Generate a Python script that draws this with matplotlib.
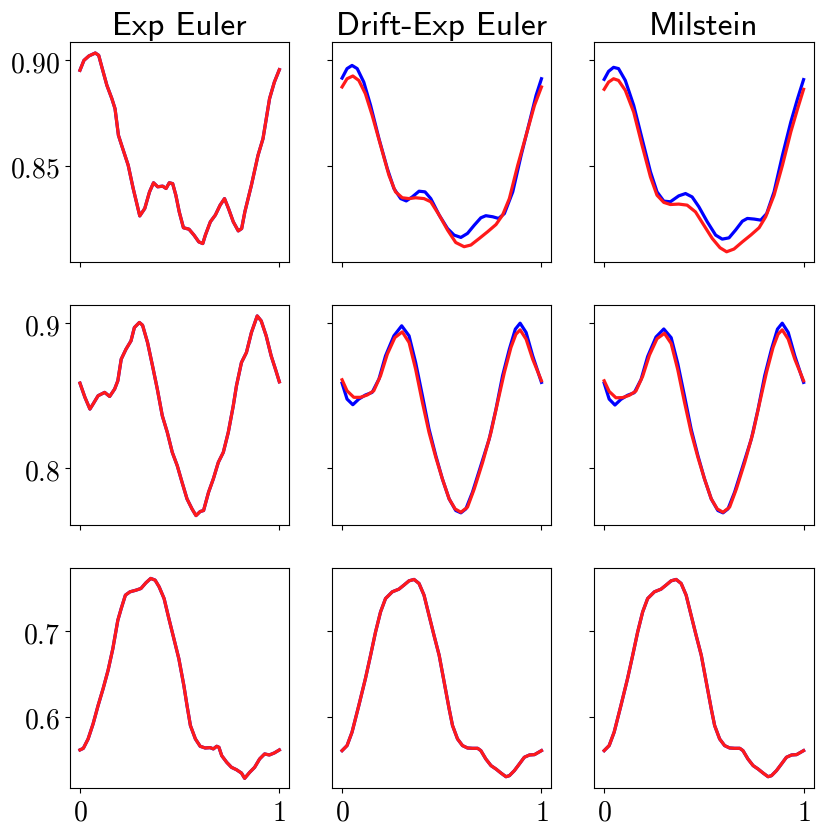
import matplotlib
matplotlib.use("Agg")
import matplotlib.pyplot as plt

plt.rcParams["mathtext.fontset"] = "cm"

methods = ["Exp Euler", "Drift-Exp Euler", "Milstein"]

# ---- row 1 ----
r1_exp_x = [0.0, 0.020, 0.045, 0.077, 0.094, 0.110, 0.135, 0.160, 0.176, 0.193, 0.209,
            0.242, 0.267, 0.300, 0.325, 0.349, 0.369, 0.390, 0.415, 0.432, 0.448, 0.465,
            0.481, 0.498, 0.519, 0.547, 0.572, 0.596, 0.616, 0.629, 0.654, 0.679, 0.703,
            0.725, 0.745, 0.769, 0.794, 0.811, 0.827, 0.860, 0.893, 0.918, 0.951, 0.975, 1.0]
r1_exp_y = [0.8953, 0.9000, 0.9021, 0.9035, 0.9024, 0.8968, 0.8882, 0.8819, 0.8771, 0.8645,
            0.8598, 0.8503, 0.8393, 0.8263, 0.8298, 0.8377, 0.8420, 0.8401, 0.8404, 0.8393,
            0.8420, 0.8416, 0.8361, 0.8282, 0.8207, 0.8200, 0.8172, 0.8140, 0.8132, 0.8172,
            0.8235, 0.8267, 0.8314, 0.8345, 0.8298, 0.8235, 0.8192, 0.8203, 0.8282, 0.8409,
            0.8550, 0.8629, 0.8819, 0.8897, 0.8956]

r1_drift_blue_x = [0.0, 0.025, 0.050, 0.076, 0.109, 0.143, 0.185, 0.227, 0.260, 0.294, 0.322,
                   0.352, 0.386, 0.416, 0.445, 0.487, 0.529, 0.562, 0.596, 0.629, 0.663, 0.696,
                   0.721, 0.755, 0.785, 0.814, 0.856, 0.898, 0.940, 0.973, 1.0]
r1_drift_blue_y = [0.8916, 0.8961, 0.8976, 0.8961, 0.8897, 0.8787, 0.8629, 0.8487, 0.8393,
                   0.8345, 0.8334, 0.8353, 0.8380, 0.8377, 0.8345, 0.8267, 0.8203, 0.8172,
                   0.8161, 0.8180, 0.8219, 0.8254, 0.8264, 0.8259, 0.8251, 0.8274, 0.8377,
                   0.8550, 0.8708, 0.8834, 0.8913]
r1_drift_red_x = [0.0, 0.025, 0.054, 0.084, 0.117, 0.151, 0.193, 0.235, 0.268, 0.302, 0.336,
                  0.369, 0.411, 0.445, 0.487, 0.529, 0.570, 0.612, 0.646, 0.688, 0.730, 0.772,
                  0.805, 0.839, 0.881, 0.923, 0.965, 1.0]
r1_drift_red_y = [0.8874, 0.8913, 0.8926, 0.8905, 0.8842, 0.8740, 0.8598, 0.8456, 0.8377,
                  0.8349, 0.8345, 0.8349, 0.8345, 0.8330, 0.8267, 0.8196, 0.8137, 0.8117,
                  0.8125, 0.8156, 0.8188, 0.8222, 0.8267, 0.8345, 0.8503, 0.8645, 0.8787, 0.8874]

r1_mil_blue_x = [0.0, 0.022, 0.047, 0.072, 0.106, 0.148, 0.190, 0.232, 0.265, 0.299, 0.332,
                 0.374, 0.408, 0.441, 0.475, 0.517, 0.559, 0.592, 0.626, 0.659, 0.693, 0.718,
                 0.752, 0.785, 0.815, 0.852, 0.894, 0.936, 0.970, 1.0]
r1_mil_blue_y = [0.8910, 0.8948, 0.8967, 0.8961, 0.8905, 0.8787, 0.8629, 0.8472, 0.8377,
                 0.8333, 0.8330, 0.8358, 0.8369, 0.8353, 0.8306, 0.8235, 0.8172, 0.8153,
                 0.8159, 0.8196, 0.8238, 0.8251, 0.8248, 0.8243, 0.8274, 0.8377, 0.8550,
                 0.8708, 0.8819, 0.8909]
r1_mil_red_x = [0.0, 0.022, 0.047, 0.072, 0.106, 0.148, 0.190, 0.232, 0.265, 0.299, 0.332,
                0.374, 0.416, 0.458, 0.500, 0.542, 0.581, 0.614, 0.651, 0.693, 0.735, 0.777,
                0.810, 0.852, 0.894, 0.936, 0.970, 1.0]
r1_mil_red_y = [0.8863, 0.8897, 0.8913, 0.8905, 0.8858, 0.8755, 0.8598, 0.8448, 0.8361,
                0.8327, 0.8317, 0.8319, 0.8314, 0.8282, 0.8219, 0.8156, 0.8112, 0.8093,
                0.8106, 0.8140, 0.8172, 0.8207, 0.8259, 0.8361, 0.8503, 0.8661, 0.8771, 0.8863]

# ---- row 2 ----
r2_exp_x = [0.0, 0.025, 0.050, 0.066, 0.091, 0.124, 0.149, 0.174, 0.190, 0.207, 0.231,
            0.256, 0.273, 0.298, 0.314, 0.339, 0.364, 0.388, 0.413, 0.438, 0.463, 0.488,
            0.512, 0.537, 0.562, 0.582, 0.603, 0.620, 0.645, 0.669, 0.694, 0.719, 0.744,
            0.769, 0.785, 0.810, 0.835, 0.860, 0.889, 0.909, 0.934, 0.959, 0.983, 1.0]
r2_exp_y = [0.8587, 0.8489, 0.8408, 0.8443, 0.8500, 0.8523, 0.8495, 0.8546, 0.8603, 0.8752,
            0.8821, 0.8878, 0.8970, 0.9005, 0.8986, 0.8867, 0.8706, 0.8546, 0.8362, 0.8248,
            0.8110, 0.8018, 0.7904, 0.7789, 0.7720, 0.7674, 0.7702, 0.7709, 0.7835, 0.7927,
            0.8041, 0.8110, 0.8248, 0.8431, 0.8569, 0.8729, 0.8798, 0.8936, 0.9050, 0.9016,
            0.8913, 0.8775, 0.8672, 0.8596]

r2_drift_blue_x = [0.0, 0.025, 0.054, 0.084, 0.117, 0.151, 0.185, 0.218, 0.260, 0.299, 0.336,
                   0.369, 0.403, 0.436, 0.470, 0.503, 0.537, 0.570, 0.596, 0.621, 0.654, 0.696,
                   0.738, 0.772, 0.805, 0.839, 0.869, 0.893, 0.923, 0.956, 1.0]
r2_drift_blue_y = [0.8587, 0.8477, 0.8438, 0.8477, 0.8505, 0.8523, 0.8615, 0.8775, 0.8913,
                   0.8982, 0.8913, 0.8729, 0.8500, 0.8271, 0.8087, 0.7927, 0.7789, 0.7709,
                   0.7693, 0.7720, 0.7835, 0.8018, 0.8202, 0.8408, 0.8638, 0.8821, 0.8959,
                   0.9000, 0.8936, 0.8775, 0.8592]
r2_drift_red_x = [0.0, 0.025, 0.059, 0.092, 0.126, 0.159, 0.193, 0.227, 0.265, 0.302, 0.336,
                  0.369, 0.403, 0.436, 0.470, 0.503, 0.537, 0.567, 0.596, 0.629, 0.663, 0.705,
                  0.747, 0.780, 0.814, 0.847, 0.872, 0.893, 0.923, 0.956, 1.0]
r2_drift_red_y = [0.8610, 0.8534, 0.8489, 0.8489, 0.8505, 0.8534, 0.8638, 0.8787, 0.8901,
                  0.8940, 0.8867, 0.8683, 0.8454, 0.8248, 0.8076, 0.7927, 0.7789, 0.7720,
                  0.7697, 0.7732, 0.7858, 0.8041, 0.8248, 0.8454, 0.8661, 0.8833, 0.8924,
                  0.8954, 0.8890, 0.8752, 0.8603]

r2_mil_blue_y = [0.8587, 0.8477, 0.8436, 0.8475, 0.8503, 0.8521, 0.8612, 0.8770, 0.8905,
                 0.8960, 0.8900, 0.8722, 0.8497, 0.8271, 0.8087, 0.7927, 0.7789, 0.7709,
                 0.7693, 0.7720, 0.7835, 0.8018, 0.8202, 0.8408, 0.8638, 0.8821, 0.8959,
                 0.9000, 0.8936, 0.8775, 0.8592]
r2_mil_red_y = [0.8603, 0.8530, 0.8486, 0.8487, 0.8503, 0.8532, 0.8634, 0.8780, 0.8893,
                0.8930, 0.8860, 0.8680, 0.8454, 0.8248, 0.8076, 0.7927, 0.7789, 0.7720,
                0.7697, 0.7732, 0.7858, 0.8041, 0.8248, 0.8454, 0.8661, 0.8833, 0.8924,
                0.8954, 0.8890, 0.8752, 0.8603]

# ---- row 3 ----
r3_exp_x = [0.0, 0.017, 0.041, 0.066, 0.091, 0.116, 0.141, 0.165, 0.190, 0.207, 0.228,
            0.251, 0.281, 0.306, 0.331, 0.355, 0.377, 0.397, 0.422, 0.446, 0.471, 0.496,
            0.521, 0.537, 0.554, 0.579, 0.603, 0.628, 0.653, 0.669, 0.686, 0.697, 0.711,
            0.736, 0.760, 0.785, 0.810, 0.826, 0.851, 0.876, 0.901, 0.926, 0.950, 0.975, 1.0]
r3_exp_y = [0.5608, 0.5627, 0.5737, 0.5914, 0.6129, 0.6325, 0.6541, 0.6796, 0.7129, 0.7267,
            0.7424, 0.7463, 0.7482, 0.7502, 0.7569, 0.7620, 0.7600, 0.7522, 0.7384, 0.7149,
            0.6914, 0.6678, 0.6365, 0.6129, 0.5894, 0.5737, 0.5651, 0.5631, 0.5635, 0.5620,
            0.5651, 0.5639, 0.5541, 0.5463, 0.5404, 0.5376, 0.5337, 0.5275, 0.5345, 0.5404,
            0.5502, 0.5561, 0.5549, 0.5573, 0.5608]

r3_smooth_x = [0.0, 0.025, 0.050, 0.084, 0.117, 0.143, 0.168, 0.193, 0.218, 0.252, 0.285,
               0.310, 0.336, 0.361, 0.386, 0.411, 0.436, 0.461, 0.487, 0.512, 0.537, 0.554,
               0.579, 0.604, 0.629, 0.654, 0.680, 0.696, 0.721, 0.747, 0.772, 0.797, 0.822,
               0.839, 0.864, 0.889, 0.914, 0.940, 0.965, 1.0]
r3_smooth_y = [0.5600, 0.5659, 0.5816, 0.6129, 0.6443, 0.6718, 0.6992, 0.7227, 0.7384,
               0.7463, 0.7494, 0.7541, 0.7592, 0.7608, 0.7561, 0.7424, 0.7188, 0.6953,
               0.6718, 0.6404, 0.6090, 0.5894, 0.5737, 0.5659, 0.5631, 0.5627, 0.5627,
               0.5600, 0.5502, 0.5424, 0.5384, 0.5337, 0.5294, 0.5306, 0.5365, 0.5443,
               0.5522, 0.5549, 0.5553, 0.5600]

row_ylims = [(0.8046, 0.9087), (0.761, 0.9124), (0.5161, 0.7738)]
row_yticks = [[0.85, 0.90], [0.8, 0.9], [0.6, 0.7]]
row_yticklabels = [["0.85", "0.90"], ["0.8", "0.9"], ["0.6", "0.7"]]

# (blue x, blue y, red x, red y) for each panel
panels = [
    [(r1_exp_x, r1_exp_y, r1_exp_x, r1_exp_y),
     (r1_drift_blue_x, r1_drift_blue_y, r1_drift_red_x, r1_drift_red_y),
     (r1_mil_blue_x, r1_mil_blue_y, r1_mil_red_x, r1_mil_red_y)],
    [(r2_exp_x, r2_exp_y, r2_exp_x, r2_exp_y),
     (r2_drift_blue_x, r2_drift_blue_y, r2_drift_red_x, r2_drift_red_y),
     (r2_drift_blue_x, r2_mil_blue_y, r2_drift_red_x, r2_mil_red_y)],
    [(r3_exp_x, r3_exp_y, r3_exp_x, r3_exp_y),
     (r3_smooth_x, r3_smooth_y, r3_smooth_x, r3_smooth_y),
     (r3_smooth_x, r3_smooth_y, r3_smooth_x, r3_smooth_y)],
]

fig, axes = plt.subplots(3, 3, figsize=(8.31, 8.37), dpi=100, sharex=True, sharey="row")
fig.subplots_adjust(left=0.0842, right=0.979, bottom=0.0573, top=0.9486,
                    wspace=0.195, hspace=0.198)

for i in range(3):
    for j in range(3):
        ax = axes[i, j]
        bx, by, rx, ry = panels[i][j]
        ax.plot(bx, by, color="blue", lw=2.3, solid_joinstyle="round")
        ax.plot(rx, ry, color="#ff1a1a", lw=2.3, solid_joinstyle="round")
        ax.set_xlim(-0.05, 1.05)
        ax.set_ylim(*row_ylims[i])
        ax.set_xticks([0, 1])
        ax.set_yticks(row_yticks[i])
        if j == 0:
            ax.set_yticklabels(["$%s$" % s for s in row_yticklabels[i]], fontsize=20)
        if i == 2:
            ax.set_xticklabels(["$0$", "$1$"], fontsize=20)
        if i == 0:
            ax.set_title(methods[j], fontsize=24, family="cmss10", pad=6)

fig.savefig("out.png", dpi=100)
